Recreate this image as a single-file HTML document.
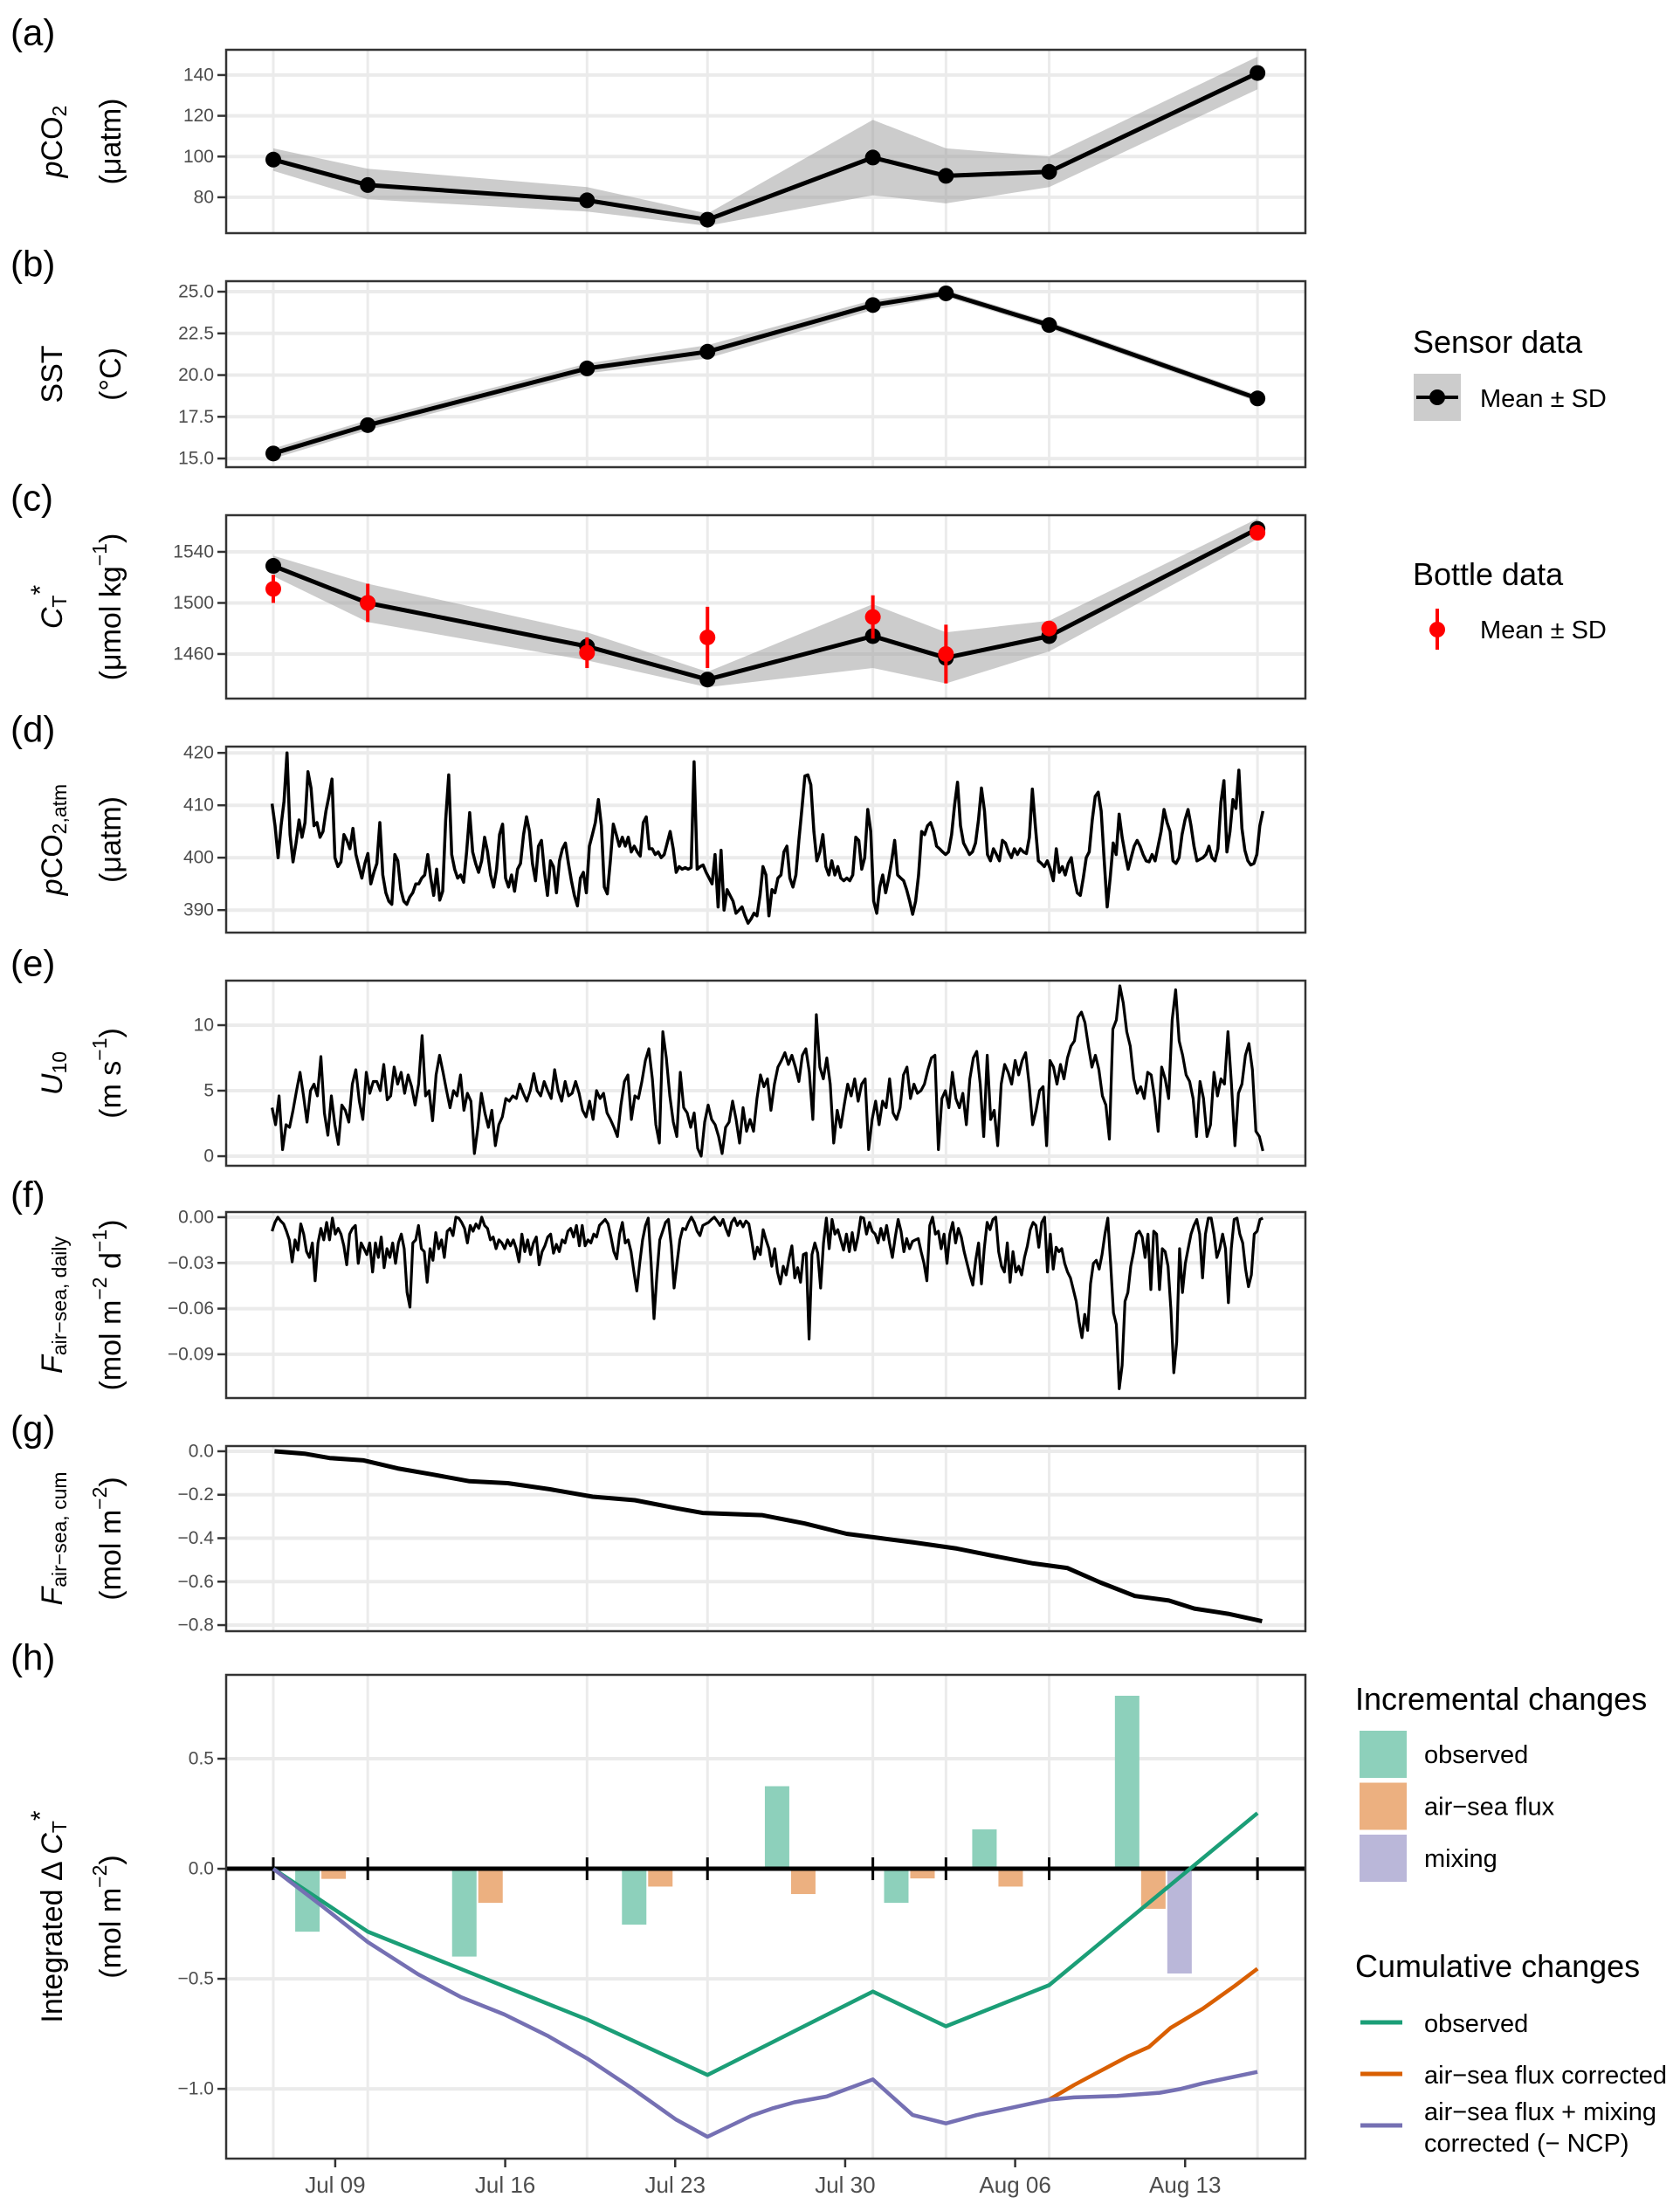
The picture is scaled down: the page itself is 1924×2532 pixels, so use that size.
<!DOCTYPE html>
<html><head><meta charset="utf-8"><title>Carbon budget time series</title>
<style>
html,body{margin:0;padding:0;background:#fff;}
svg{display:block;font-family:"Liberation Sans",Arial,sans-serif;}
</style></head>
<body>
<svg id="chart" width="1924" height="2532" viewBox="0 0 1924 2532" xmlns="http://www.w3.org/2000/svg">
<rect x="0" y="0" width="1924" height="2532" fill="#fff"/>
</svg>
<script>
// ---------- data ----------
const sampleDays = [6.45, 10.34, 19.37, 24.33, 31.14, 34.15, 38.4, 46.98];
const pco2Mean = [98.5, 86, 78.5, 69, 99.5, 90.5, 92.5, 141];
const pco2Hi = [104, 94, 85, 72, 118, 104, 100, 149];
const pco2Lo = [93, 79, 73, 66, 81, 77, 85, 133];
const sstMean = [15.3, 17.0, 20.4, 21.4, 24.2, 24.9, 23.0, 18.6];
const sstSd = [0.3, 0.3, 0.3, 0.4, 0.3, 0.2, 0.2, 0.2];
const ctMean = [1529, 1500, 1466, 1440, 1474, 1457, 1474, 1558];
const ctSd = [8, 15, 11, 6, 25, 20, 12, 8];
const ctBottle = [1511, 1500, 1461, 1473, 1489, 1460, 1480, 1555];
const ctBottleSd = [11, 15, 12, 24, 17, 23, 4, 4];
const seriesStart = 6.4;
const seriesEnd = 47.2;
const pco2Atm = [410.3,406.1,400,406.1,410.8,420,404.4,399.2,402.8,407.2,403.9,406.7,416.4,413.3,406.1,406.7,403.9,405,408.9,411.7,415,400,398.3,399.2,404.4,403.3,401.7,405.6,400.6,398.3,396.1,398.9,400.8,395,397.2,398.9,406.7,396.7,393.3,391.7,391.1,400.6,399.4,393.9,391.7,391.1,392.5,393.3,395,395,396.1,396.7,400.6,396.1,392.8,397.8,391.9,393.6,407.2,415.8,400.6,397.8,396.1,396.7,395.3,401.1,408.6,401.1,398.9,397.2,399.4,403.9,401.1,396.7,394.4,397.8,404.4,406.4,396.1,394.4,396.7,393.6,397.8,398.9,404.4,407.8,405,398.9,395.6,402.2,403.3,397.2,392.8,399.4,398.3,393.3,399.4,401.7,402.8,398.9,395.6,392.8,390.8,396.1,397.2,393.3,402.2,404.4,406.7,411.1,406.1,394.4,393.1,399.4,406.4,404.4,402.2,403.9,402.2,403.9,401.1,402.2,401.1,400.3,406.7,407.8,401.7,401.7,400.6,401.1,400,400.6,402.8,405,401.7,397.2,398.3,397.8,398.1,397.8,398.1,418.3,397.8,398.3,398.6,397.2,396.1,395,400.6,390.6,401.4,390,393.9,392.8,391.7,389.4,390,390.6,388.9,387.5,388.3,389.4,388.9,392.8,398.3,396.7,388.9,393.9,393.3,396.1,396.7,401.1,402.2,396.1,394.4,396.7,403.3,409.4,415.6,415.8,413.9,405,399.4,401.1,404.4,398.3,396.7,399.4,396.7,398.3,396.1,395.6,396.1,395.6,396.7,403.9,403.3,397.8,400,409.2,405,391.7,389.4,394.4,396.7,393.3,396.1,399.4,403.3,396.7,396.1,395.6,393.9,391.7,389.2,391.7,396.7,405,404.4,406.1,406.7,405,402.2,401.7,401.1,400.6,401.1,404.4,410,414.4,406.1,402.8,401.7,400.6,401.1,402.8,407.2,413.3,408.9,400.6,399.4,401.7,400.6,399.4,403.3,402.8,401.1,400,401.7,400.6,401.7,401.1,400.8,403.9,413.1,406.1,399.4,398.9,398.3,399.4,397.8,395.6,401.7,397.2,398.3,396.7,398.9,400,396.1,393.3,392.8,396.1,400,401.1,407.2,411.7,412.5,408.9,399.4,390.6,396.1,402.8,400.6,408.3,403.9,400.6,397.8,400,402.2,403.3,402.2,400.6,399.4,399.2,400.6,399.4,402.2,405,409.2,406.7,405,399.4,398.9,400,404.4,407.2,409.2,406.1,402.2,399.4,399.7,400,400.6,402.2,400,399.4,401.7,410.6,414.7,401.1,405,411.1,409.4,416.7,405.6,401.4,399.4,398.6,398.9,400.6,406.1,408.9];
const windU10 = [3.7,2.4,4.6,0.5,2.4,2.2,3.5,5.0,6.4,4.6,2.6,5.0,5.5,4.6,7.6,3.3,1.6,4.6,2.4,0.9,3.9,3.5,2.6,5.5,6.6,4.2,2.8,6.4,4.8,5.7,5.7,5.0,7.0,4.3,4.6,6.8,5.5,6.4,4.8,6.2,5.3,3.9,5.5,9.2,4.6,5.0,2.7,6.2,7.7,6.4,5.0,3.7,5.0,4.6,6.2,3.5,4.8,4.2,0.2,2.2,4.8,3.3,2.2,3.5,0.8,2.4,3.0,4.4,4.2,4.6,4.4,5.5,4.8,4.2,5.0,6.3,5.0,4.6,5.7,5.0,4.4,6.6,5.0,4.2,5.7,4.6,4.8,5.7,4.8,3.5,3.0,4.2,2.8,5.0,4.4,4.8,3.3,2.8,2.2,1.5,3.9,5.7,6.2,2.8,4.6,4.4,5.7,7.3,8.2,5.9,2.4,1.0,9.5,7.5,4.6,2.6,1.5,6.4,3.7,3.3,2.2,3.3,0.6,0.0,2.6,3.9,2.8,2.4,1.5,0.2,2.2,2.6,4.2,2.8,1.0,3.7,1.9,2.8,1.9,4.4,6.2,5.3,5.9,3.5,5.5,6.8,7.3,7.9,7.0,7.7,6.8,5.7,7.7,8.2,6.4,2.8,10.8,6.8,5.9,7.5,5.5,1.0,3.5,2.2,3.9,5.5,4.6,5.9,4.2,5.5,5.9,0.5,2.8,4.2,2.4,4.2,3.7,5.9,3.3,2.8,3.7,6.2,6.8,4.4,5.5,4.8,5.0,5.5,6.6,7.5,7.7,0.5,4.4,5.0,3.7,6.4,4.4,3.7,4.8,2.4,5.9,7.5,8.0,5.5,1.5,7.7,2.8,3.5,0.8,5.5,7.0,6.4,5.5,7.3,6.2,7.3,7.9,5.5,2.4,3.5,5.0,5.3,0.8,7.3,6.8,5.5,7.0,5.9,7.5,8.4,8.8,10.6,11.0,10.2,8.4,6.8,7.7,6.6,4.6,3.9,1.3,9.7,10.4,13.0,11.7,9.5,8.4,5.9,4.8,5.3,4.4,6.4,6.2,4.4,1.9,6.8,5.9,4.4,10.4,12.7,8.8,7.7,6.2,5.7,4.4,1.5,5.7,4.4,1.5,2.4,6.4,4.6,5.9,5.5,9.5,5.5,0.8,4.8,5.5,7.7,8.6,6.6,1.9,1.5,0.4];
const fluxDaily = [-0.0092,-0.0034,0,-0.0025,-0.0044,-0.0092,-0.0149,-0.0293,-0.0149,-0.0216,-0.0044,-0.0111,-0.0226,-0.0264,-0.0169,-0.0417,-0.0169,-0.0073,-0.0149,-0.0034,-0.0149,-0.0006,-0.0111,-0.0073,-0.0111,-0.0188,-0.0312,-0.0111,-0.0073,-0.0054,-0.0303,-0.0169,-0.0207,-0.0245,-0.0169,-0.036,-0.0169,-0.0264,-0.013,-0.0331,-0.0207,-0.0264,-0.0169,-0.0303,-0.0169,-0.0111,-0.0207,-0.0494,-0.059,-0.0169,-0.0149,-0.0054,-0.0207,-0.0226,-0.0427,-0.0207,-0.0283,-0.0101,-0.0207,-0.0149,-0.0264,-0.0092,-0.0073,-0.0121,0,-0.0006,-0.0034,-0.0073,-0.0169,-0.0054,-0.0092,-0.0044,-0.0073,0,-0.0054,-0.0073,-0.0149,-0.013,-0.0207,-0.0149,-0.0169,-0.0207,-0.0149,-0.0188,-0.0149,-0.0207,-0.0293,-0.0111,-0.0226,-0.0149,-0.0245,-0.0169,-0.013,-0.0312,-0.0226,-0.0188,-0.013,-0.0111,-0.0236,-0.0178,-0.0226,-0.0149,-0.0169,-0.0092,-0.0073,-0.013,-0.0054,-0.0188,-0.0054,-0.0188,-0.0149,-0.0169,-0.0111,-0.013,-0.0054,-0.0034,-0.0015,-0.0044,-0.013,-0.0226,-0.0274,-0.0111,-0.0034,-0.0169,-0.0149,-0.0226,-0.036,-0.0484,-0.0303,-0.0149,-0.0054,-0.0006,-0.0303,-0.0666,-0.0379,-0.0149,-0.0092,-0.0034,-0.0015,-0.0188,-0.0465,-0.0303,-0.0149,-0.0073,-0.0082,-0.0034,0,-0.0034,-0.0092,-0.0121,-0.0054,-0.0044,-0.0034,-0.0015,0,-0.0025,-0.0054,-0.0015,-0.0073,-0.0121,-0.0034,-0.0006,-0.0054,-0.0025,-0.0063,-0.0025,-0.0044,-0.0149,-0.0274,-0.0197,-0.0245,-0.0082,-0.0149,-0.0207,-0.0322,-0.0207,-0.036,-0.0437,-0.0322,-0.0379,-0.0274,-0.0188,-0.0398,-0.0331,-0.0427,-0.0245,-0.0236,-0.08,-0.0245,-0.0169,-0.0236,-0.0465,-0.0169,-0.0006,-0.0207,-0.0015,-0.0111,-0.0082,-0.0149,-0.0216,-0.0111,-0.0226,-0.0101,-0.0216,-0.013,0,-0.0006,-0.0111,-0.0034,-0.0092,-0.0111,-0.0169,-0.0073,-0.0149,-0.0054,-0.0169,-0.0264,-0.013,-0.0015,-0.0092,-0.0226,-0.014,-0.0207,-0.0159,-0.0149,-0.014,-0.0226,-0.0303,-0.0417,-0.0054,0,-0.0111,-0.0092,-0.0207,-0.0111,-0.0303,-0.0111,-0.0034,-0.0169,-0.0073,-0.013,-0.0226,-0.0303,-0.0379,-0.0446,-0.0283,-0.0169,-0.0437,-0.0207,-0.0034,-0.0082,-0.0015,0,-0.0226,-0.0322,-0.036,-0.0169,-0.0427,-0.0226,-0.036,-0.0322,-0.0379,-0.0264,-0.0188,-0.0082,-0.0034,-0.0054,-0.0197,-0.0034,0,-0.036,-0.0111,-0.0341,-0.0197,-0.0226,-0.0207,-0.0303,-0.036,-0.0398,-0.0475,-0.0552,-0.0686,-0.0791,-0.0638,-0.0743,-0.0437,-0.0303,-0.0283,-0.0341,-0.0245,-0.0111,-0.0006,-0.0303,-0.0628,-0.0705,-0.1126,-0.0973,-0.0552,-0.0494,-0.0322,-0.0226,-0.0111,-0.0092,-0.013,-0.0264,-0.0111,-0.0475,-0.0092,-0.0111,-0.0475,-0.0207,-0.0226,-0.0322,-0.0609,-0.1021,-0.082,-0.0207,-0.0494,-0.0303,-0.0207,-0.0111,-0.0054,-0.0015,-0.0111,-0.0398,-0.0111,-0.0006,-0.0006,-0.0111,-0.0264,-0.0207,-0.0111,-0.0207,-0.0561,-0.0207,-0.0015,-0.0006,-0.0111,-0.0169,-0.0341,-0.0456,-0.0379,-0.0111,-0.0092,-0.0015,-0.0006];
const cumDays = [6.5,7.73,8.77,10.17,11.57,12.96,14.53,16.1,17.85,19.6,21.34,23.09,24.13,26.57,28.32,30.06,31.46,32.86,34.6,36.0,37.74,39.14,40.53,41.93,43.33,44.38,45.77,47.17];
const cumFlux = [0,-0.011,-0.031,-0.042,-0.079,-0.106,-0.138,-0.147,-0.175,-0.209,-0.225,-0.263,-0.284,-0.294,-0.332,-0.38,-0.4,-0.42,-0.448,-0.479,-0.516,-0.537,-0.605,-0.666,-0.687,-0.724,-0.748,-0.782];
const incObserved = [-0.286, -0.399, -0.254, 0.375, -0.155, 0.179, 0.786];
const incAirSea = [-0.046, -0.155, -0.081, -0.115, -0.044, -0.081, -0.182];
const incMixing = [0, 0, 0, 0, 0, 0, -0.476];
const cumObserved = [0, -0.286, -0.685, -0.937, -0.558, -0.716, -0.529, 0.253];
const ncpDays = [6.45,8.44,10.34,12.42,14.19,15.96,17.73,19.37,21.27,23.04,24.33,26.14,27.03,27.91,29.24,31.14,32.78,34.15,35.43,36.76,38.4,39.42,41.19,42.95,43.84,44.72,46.98];
const ncpCorrected = [0,-0.168,-0.333,-0.48,-0.584,-0.662,-0.758,-0.862,-1.001,-1.14,-1.218,-1.122,-1.088,-1.061,-1.035,-0.957,-1.119,-1.157,-1.119,-1.088,-1.049,-1.039,-1.032,-1.018,-1.0,-0.975,-0.923];
const airCorrDays = [38.4,39.42,40.3,41.63,42.51,43.4,44.72,46.05,46.98];
const airCorrected = [-1.049,-0.983,-0.931,-0.853,-0.81,-0.723,-0.636,-0.532,-0.454];
const dateTickDays = [9, 16, 23, 30, 37, 44];
const dateTickLabels = ["Jul 09", "Jul 16", "Jul 23", "Jul 30", "Aug 06", "Aug 13"];

// ---------- helpers ----------
const NS = "http://www.w3.org/2000/svg";
const svg = document.getElementById("chart");
const PL = 259, PR = 1495;
function xS(d){ return 313 + (d - 6.45) * 27.81; }
function mk(tag, attrs, parent){
  const e = document.createElementNS(NS, tag);
  for (const k in attrs) e.setAttribute(k, attrs[k]);
  (parent || svg).appendChild(e);
  return e;
}
function yScale(p){ return v => p.top + (p.ymax - v) / (p.ymax - p.ymin) * (p.bottom - p.top); }

function panel(p){
  const g = mk("g", {});
  
  
  const y = yScale(p);
  p.y = y; p.g = g;
  for (const d of sampleDays){
    const l = mk("line", {x1:xS(d), x2:xS(d), y1:p.top, y2:p.bottom, stroke:"#ebebeb", "stroke-width":3}, g);
    
    
  }
  for (const t of p.ticks){
    const l = mk("line", {x1:PL, x2:PR, y1:y(t), y2:y(t), stroke:"#ebebeb", "stroke-width":4}, g);
    
    
    const tk = mk("line", {x1:PL-10, x2:PL, y1:y(t), y2:y(t), stroke:"#333", "stroke-width":2.5}, g);
    
    
    const tx = mk("text", {x:PL-14, y:y(t), "text-anchor":"end", "dominant-baseline":"central", "font-size":21, fill:"#4d4d4d"}, g);
    tx.textContent = p.fmt(t);
    
    
  }
  const letter = mk("text", {x:12, y:p.top - 20, "dominant-baseline":"central", "font-size":42, fill:"#000"}, g);
  letter.textContent = "(" + p.id + ")";
  
  
  const cy = (p.top + p.bottom) / 2;
  const t1 = mk("text", {x:0, y:0, transform:`translate(60 ${cy}) rotate(-90)`, "text-anchor":"middle", "dominant-baseline":"central", "font-size":34, fill:"#000"}, g);
  t1.innerHTML = p.t1;
  
  
  const t2 = mk("text", {x:0, y:0, transform:`translate(127 ${cy}) rotate(-90)`, "text-anchor":"middle", "dominant-baseline":"central", "font-size":34, fill:"#000"}, g);
  t2.innerHTML = p.t2;
  
  
  return g;
}
function border(p){
  const r = mk("rect", {x:PL, y:p.top, width:PR-PL, height:p.bottom-p.top, fill:"none", stroke:"#333", "stroke-width":2.5}, p.g);
  
  
}
function pathFrom(xs, ys){ return xs.map((x,i)=>(i?"L":"M")+x.toFixed(1)+" "+ys[i].toFixed(1)).join(""); }
function uniformDays(n){ const a=[]; for(let i=0;i<n;i++) a.push(seriesStart + i*(seriesEnd-seriesStart)/(n-1)); return a; }

function meanPanel(p, mean, lo, hi, name){
  const y = p.y;
  const up = sampleDays.map((d,i)=>xS(d)+","+y(hi[i]).toFixed(1));
  const dn = sampleDays.map((d,i)=>xS(d)+","+y(lo[i]).toFixed(1)).reverse();
  const band = mk("polygon", {points: up.concat(dn).join(" "), fill:"#999", "fill-opacity":0.5}, p.g);
  
  
  const ln = mk("path", {d: pathFrom(sampleDays.map(xS), mean.map(y)), fill:"none", stroke:"#000", "stroke-width":5, "stroke-linejoin":"round"}, p.g);
  
  
  sampleDays.forEach((d,i)=>{
    const c = mk("circle", {cx:xS(d), cy:y(mean[i]), r:9, fill:"#000"}, p.g);
    
    
  });
}

const SUB = 'font-size="23"';
// ---------- panels ----------
const A = {id:"a", top:57, bottom:267, ymin:62.4, ymax:152.4, ticks:[80,100,120,140], fmt:v=>String(v),
  t1:'<tspan font-style="italic">p</tspan>CO<tspan '+SUB+' dy="8">2</tspan>', t2:'(μatm)'};
panel(A); meanPanel(A, pco2Mean, pco2Lo, pco2Hi, "pco2"); border(A);

const B = {id:"b", top:322, bottom:535, ymin:14.48, ymax:25.63, ticks:[15,17.5,20,22.5,25], fmt:v=>v.toFixed(1),
  t1:'SST', t2:'(°C)'};
panel(B); meanPanel(B, sstMean, sstMean.map((v,i)=>v-sstSd[i]), sstMean.map((v,i)=>v+sstSd[i]), "sst"); border(B);

const C = {id:"c", top:590, bottom:800, ymin:1425.1, ymax:1568.7, ticks:[1460,1500,1540], fmt:v=>String(v),
  t1:'<tspan font-style="italic">C</tspan><tspan '+SUB+' dy="8">T</tspan><tspan dy="-22" font-size="30">*</tspan>', t2:'(μmol kg<tspan '+SUB+' dy="-13">−1</tspan><tspan dy="13">)</tspan>'};
panel(C); meanPanel(C, ctMean, ctMean.map((v,i)=>v-ctSd[i]), ctMean.map((v,i)=>v+ctSd[i]), "ct");
sampleDays.forEach((d,i)=>{
  const e = mk("line", {x1:xS(d), x2:xS(d), y1:C.y(ctBottle[i]-ctBottleSd[i]), y2:C.y(ctBottle[i]+ctBottleSd[i]), stroke:"#f00", "stroke-width":4}, C.g);
  
  
  const c = mk("circle", {cx:xS(d), cy:C.y(ctBottle[i]), r:9, fill:"#f00"}, C.g);
  
  
});
border(C);

function linePanel(p, xs, vals, name, w){
  const ln = mk("path", {d: pathFrom(xs.map(xS), vals.map(p.y)), fill:"none", stroke:"#000", "stroke-width":w, "stroke-linejoin":"round"}, p.g);
  
  
}
const D = {id:"d", top:855, bottom:1068, ymin:385.7, ymax:421.2, ticks:[390,400,410,420], fmt:v=>String(v),
  t1:'<tspan font-style="italic">p</tspan>CO<tspan '+SUB+' dy="8">2,atm</tspan>', t2:'(μatm)'};
panel(D); linePanel(D, uniformDays(pco2Atm.length), pco2Atm, "pco2-atm-line", 3.5); border(D);

const E = {id:"e", top:1123, bottom:1335, ymin:-0.73, ymax:13.4, ticks:[0,5,10], fmt:v=>String(v),
  t1:'<tspan font-style="italic">U</tspan><tspan '+SUB+' dy="8">10</tspan>', t2:'(m s<tspan '+SUB+' dy="-13">−1</tspan><tspan dy="13">)</tspan>'};
panel(E); linePanel(E, uniformDays(windU10.length), windU10, "wind-line", 3.2); border(E);

const F = {id:"f", top:1388, bottom:1601, ymin:-0.1187, ymax:0.0034, ticks:[0,-0.03,-0.06,-0.09], fmt:v=>v.toFixed(2).replace("-","−").replace("−0.00","0.00"),
  t1:'<tspan font-style="italic">F</tspan><tspan '+SUB+' dy="8">air−sea, daily</tspan>', t2:'(mol m<tspan '+SUB+' dy="-13">−2</tspan><tspan dy="13"> d</tspan><tspan '+SUB+' dy="-13">−1</tspan><tspan dy="13">)</tspan>'};
panel(F); linePanel(F, uniformDays(fluxDaily.length), fluxDaily, "flux-daily-line", 3.2); border(F);

const G = {id:"g", top:1656, bottom:1868, ymin:-0.828, ymax:0.024, ticks:[0,-0.2,-0.4,-0.6,-0.8], fmt:v=>v.toFixed(1).replace("-","−"),
  t1:'<tspan font-style="italic">F</tspan><tspan '+SUB+' dy="8">air−sea, cum</tspan>', t2:'(mol m<tspan '+SUB+' dy="-13">−2</tspan><tspan dy="13">)</tspan>'};
panel(G); linePanel(G, cumDays, cumFlux, "flux-cumulative-line", 5); border(G);

const H = {id:"h", top:1918, bottom:2472, ymin:-1.317, ymax:0.881, ticks:[-1,-0.5,0,0.5], fmt:v=>v.toFixed(1).replace("-","−"),
  t1:'Integrated Δ <tspan font-style="italic">C</tspan><tspan '+SUB+' dy="8">T</tspan><tspan dy="-22" font-size="30">*</tspan>', t2:'(mol m<tspan '+SUB+' dy="-13">−2</tspan><tspan dy="13">)</tspan>'};
panel(H);
// bars
const barW = 28, barStep = 30;
for (let i=0;i<incObserved.length;i++){
  const mid = (xS(sampleDays[i]) + xS(sampleDays[i+1])) / 2;
  const vals = [incObserved[i], incAirSea[i]];
  const cols = ["#8dd0bb", "#ecb080"];
  const names = ["bar-observed", "bar-air-sea"];
  if (incMixing[i] !== 0){ vals.push(incMixing[i]); cols.push("#bab7d9"); names.push("bar-mixing"); }
  const n = vals.length;
  vals.forEach((v,k)=>{
    const cx = mid + (k - (n-1)/2) * barStep;
    const y0 = H.y(0), y1 = H.y(v);
    const r = mk("rect", {x:cx-barW/2, y:Math.min(y0,y1), width:barW, height:Math.abs(y1-y0), fill:cols[k]}, H.g);
    
    
  });
}
const zl = mk("line", {x1:PL, x2:PR, y1:H.y(0), y2:H.y(0), stroke:"#000", "stroke-width":5}, H.g);


sampleDays.forEach(d=>{
  const t = mk("line", {x1:xS(d), x2:xS(d), y1:H.y(0)-13, y2:H.y(0)+13, stroke:"#000", "stroke-width":3}, H.g);
  
  
});
function hLine(xs, vals, col, name){
  const ln = mk("path", {d: pathFrom(xs.map(xS), vals.map(H.y)), fill:"none", stroke:col, "stroke-width":4.5, "stroke-linejoin":"round"}, H.g);
  
  
}
hLine(sampleDays, cumObserved, "#1b9e77", "cumulative-observed-line");
hLine(airCorrDays, airCorrected, "#d95f02", "cumulative-air-sea-corrected-line");
hLine(ncpDays, ncpCorrected, "#7570b3", "cumulative-ncp-line");
border(H);
dateTickDays.forEach((d,i)=>{
  const t = mk("line", {x1:xS(d), x2:xS(d), y1:H.bottom, y2:H.bottom+10, stroke:"#333", "stroke-width":2.5}, H.g);
  
  
  const tx = mk("text", {x:xS(d), y:2502, "text-anchor":"middle", "dominant-baseline":"central", "font-size":26, fill:"#4d4d4d"}, H.g);
  tx.textContent = dateTickLabels[i];
  
  
});

// ---------- legends ----------
function txt(x, y, s, size, name){
  const t = mk("text", {x:x, y:y, "font-size":size, fill:"#000"});
  t.textContent = s;
  
  
  return t;
}
txt(1618, 404, "Sensor data", 36, "sensor-legend-title");
const sk = mk("rect", {x:1619, y:428, width:54, height:54, fill:"#cccccc"});


const skl = mk("line", {x1:1622, x2:1670, y1:455, y2:455, stroke:"#000", "stroke-width":4});


const skc = mk("circle", {cx:1646, cy:455, r:9, fill:"#000"});


txt(1695, 466, "Mean ± SD", 29, "sensor-legend-label");

txt(1618, 670, "Bottle data", 36, "bottle-legend-title");
const bkl = mk("line", {x1:1646, x2:1646, y1:697, y2:744, stroke:"#f00", "stroke-width":4});


const bkc = mk("circle", {cx:1646, cy:721, r:9, fill:"#f00"});


txt(1695, 731, "Mean ± SD", 29, "bottle-legend-label");

txt(1552, 1958, "Incremental changes", 36, "incremental-legend-title");
const incKeys = [["#8dd0bb","observed"],["#ecb080","air−sea flux"],["#bab7d9","mixing"]];
incKeys.forEach((k,i)=>{
  const top = 1982 + i*59.5;
  const r = mk("rect", {x:1557, y:top, width:54, height:54, fill:k[0]});
  
  
  txt(1631, top + 37, k[1], 29, "incremental-legend-label");
});
txt(1552, 2264, "Cumulative changes", 36, "cumulative-legend-title");
const cumKeys = [["#1b9e77",2316],["#d95f02",2375],["#7570b3",2434]];
cumKeys.forEach(k=>{
  const l = mk("line", {x1:1558, x2:1606, y1:k[1], y2:k[1], stroke:k[0], "stroke-width":5});
  
  
});
txt(1631, 2327, "observed", 29, "cumulative-legend-label");
txt(1631, 2386, "air−sea flux corrected", 29, "cumulative-legend-label");
txt(1631, 2428, "air−sea flux + mixing", 29, "cumulative-legend-label");
txt(1631, 2464, "corrected (− NCP)", 29, "cumulative-legend-label");
</script>
</body></html>
